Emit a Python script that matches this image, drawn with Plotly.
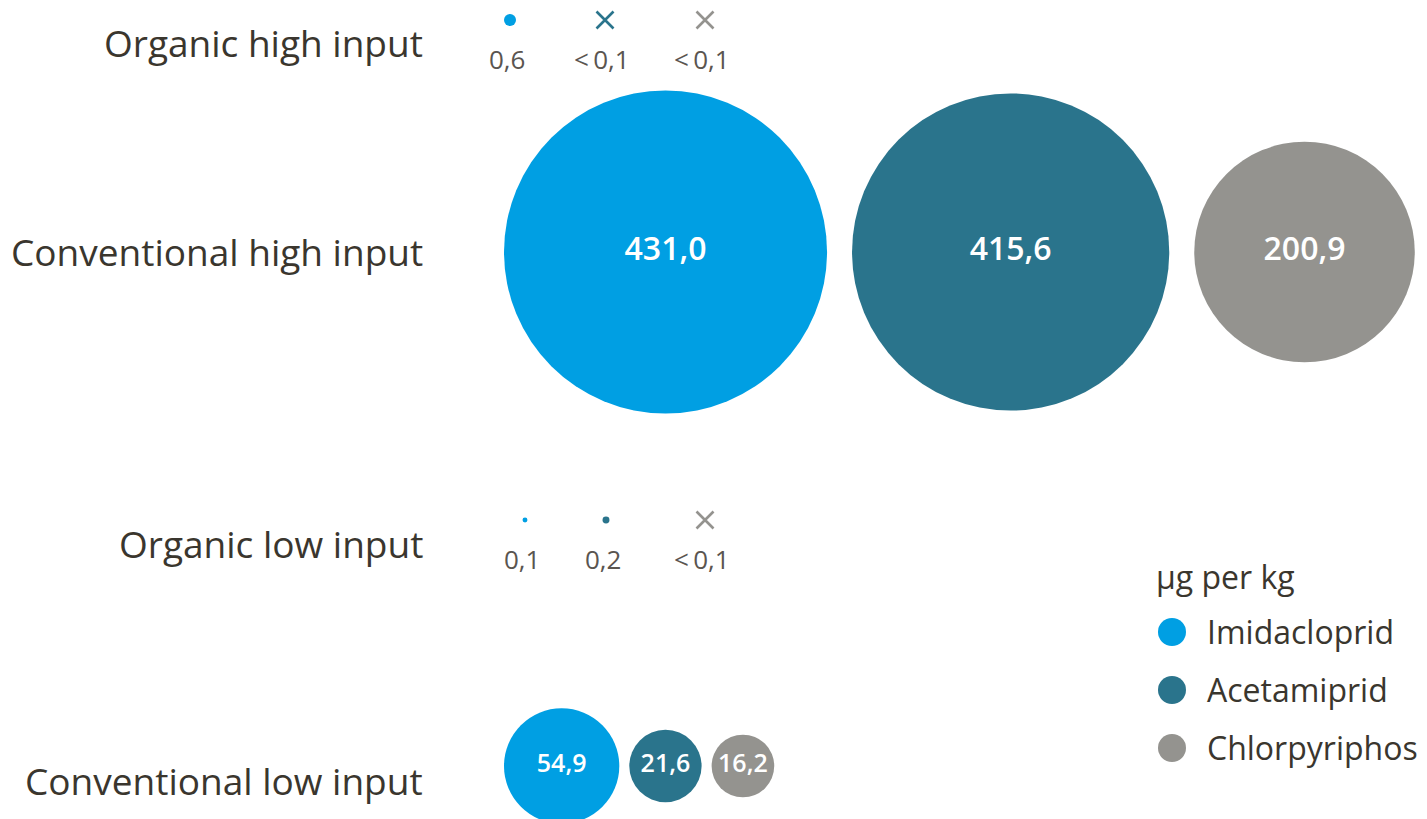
import math
import plotly.graph_objects as go

# ---------------- data ----------------
pesticides = ["Imidacloprid", "Acetamiprid", "Chlorpyriphos"]
row_labels = ["Organic high input", "Conventional high input",
              "Organic low input", "Conventional low input"]
# µg per kg ; None = below 0,1 (shown as a cross)
organic_high = [0.6, None, None]
conventional_high = [431.0, 415.6, 200.9]
organic_low = [0.1, 0.2, None]
conventional_low = [54.9, 21.6, 16.2]
unit_title = "µg per kg"

# ---------------- style / layout constants ----------------
W, H = 1427, 819
colors = ["#009FE3", "#2A748C", "#94938F"]
text_color = "#3A362E"
FONT = "Open Sans"
K = 15.56              # px of diameter per sqrt(µg/kg) (area ∝ value)
X0 = 504               # left edge of the bubble area
row_y = {"Organic high input": 20, "Conventional high input": 252,
         "Organic low input": 520, "Conventional low input": 766}
label_y = {"Organic high input": 42, "Conventional high input": 251,
           "Organic low input": 543, "Conventional low input": 780}
gap = {"Conventional high input": 25, "Conventional low input": 10}
small_cols = {"Organic high input": [510, 605, 705],
              "Organic low input": [525, 606, 705]}


def fmt(v):
    return "<\u20090,1" if v is None else f"{v:.1f}".replace(".", ",")


def diam(v):
    return K * math.sqrt(v)


fig = go.Figure()

# big bubble rows (packed left to right)
for row, vals in [("Conventional high input", conventional_high),
                  ("Conventional low input", conventional_low)]:
    x = X0
    xs = []
    for v in vals:
        d = diam(v)
        xs.append(x + d / 2)
        x += d + gap[row]
    fsize = 32 if row.startswith("Conventional high") else 25
    fig.add_trace(go.Scatter(
        x=xs, y=[row_y[row]] * 3, mode="markers+text",
        marker=dict(size=[diam(v) for v in vals], color=colors,
                    line=dict(width=0), opacity=1),
        text=[fmt(v) for v in vals], textposition="middle center",
        textfont=dict(family=FONT, size=fsize, color="white", weight=600),
        showlegend=False, hoverinfo="skip", cliponaxis=False))

# small rows (dots or crosses with value labels under them)
for row, vals in [("Organic high input", organic_high),
                  ("Organic low input", organic_low)]:
    xs = small_cols[row]
    for i, v in enumerate(vals):
        if v is None:
            marker = dict(symbol="x-thin", size=17, color=colors[i],
                          line=dict(width=2.6, color=colors[i]))
        else:
            marker = dict(symbol="circle", size=diam(v), color=colors[i],
                          line=dict(width=0))
        fig.add_trace(go.Scatter(
            x=[xs[i]], y=[row_y[row]], mode="markers", marker=marker,
            showlegend=False, hoverinfo="skip", cliponaxis=False))
        fig.add_annotation(x=xs[i] - 3, y=row_y[row] + 39, text=fmt(v),
                           showarrow=False, xanchor="center", yanchor="middle",
                           font=dict(family=FONT, size=26, color="#5A5550"))

# row labels
for row in row_labels:
    fig.add_annotation(x=425, y=label_y[row], text=row, showarrow=False,
                       xanchor="right", yanchor="middle",
                       font=dict(family=FONT, size=37, color=text_color))

# custom legend
leg_y = [632, 690, 748]
fig.add_trace(go.Scatter(
    x=[1172] * 3, y=leg_y, mode="markers",
    marker=dict(size=28, color=colors), showlegend=False, hoverinfo="skip"))
for name, y in zip(pesticides, leg_y):
    fig.add_annotation(x=1205, y=y - 1, text=name, showarrow=False,
                       xanchor="left", yanchor="middle",
                       font=dict(family=FONT, size=32, color=text_color))
fig.add_annotation(x=1154, y=576, text=unit_title, showarrow=False,
                   xanchor="left", yanchor="middle",
                   font=dict(family=FONT, size=32, color=text_color))

fig.update_layout(
    width=W, height=H, margin=dict(l=0, r=0, t=0, b=0),
    paper_bgcolor="white", plot_bgcolor="white",
    xaxis=dict(range=[0, W], visible=False, fixedrange=True),
    yaxis=dict(range=[H, 0], visible=False, fixedrange=True),
)

fig.write_html("out.html")
